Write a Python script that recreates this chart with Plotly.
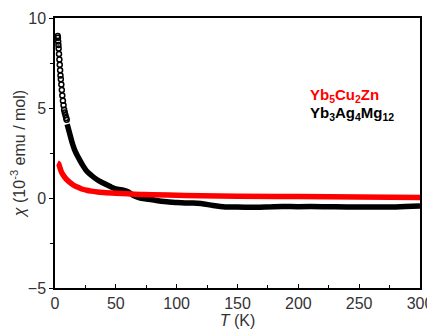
import plotly.graph_objects as go

# Yb3Ag4Mg12 sparse low-T points (open circles)
t_agmg_low = [2.2, 2.4, 2.6, 2.8, 3.0, 3.3, 3.6, 3.9, 4.2, 4.5, 4.8, 5.2, 5.6, 6.0, 6.5, 7.0, 7.5, 8.0, 8.6, 9.2, 9.6]
chi_agmg_low = [9.0, 8.9, 8.7, 8.5, 8.3, 8.0, 7.7, 7.4, 7.1, 6.8, 6.6, 6.3, 6.0, 5.7, 5.4, 5.15, 4.9, 4.75, 4.6, 4.45, 4.35]

# Yb3Ag4Mg12 dense data
t_agmg = [10, 12, 14, 16, 18, 20, 23, 26, 30, 35, 40, 45, 50, 55, 60, 65, 70, 80, 90, 100, 110, 120, 130, 140, 150, 165, 180, 200, 220, 240, 260, 280, 300]
chi_agmg = [4.1, 3.6, 3.1, 2.7, 2.4, 2.15, 1.8, 1.5, 1.25, 1.0, 0.82, 0.65, 0.5, 0.45, 0.35, 0.12, 0.0, -0.1, -0.2, -0.25, -0.28, -0.3, -0.42, -0.5, -0.5, -0.52, -0.48, -0.48, -0.48, -0.5, -0.5, -0.5, -0.45]

# Yb5Cu2Zn
t_cuzn = [2, 3, 4, 5, 6, 8, 10, 12, 15, 18, 22, 26, 30, 35, 40, 50, 60, 70, 80, 100, 120, 150, 200, 250, 300]
chi_cuzn = [1.95, 1.9, 1.7, 1.5, 1.35, 1.15, 1.0, 0.88, 0.72, 0.62, 0.5, 0.43, 0.38, 0.33, 0.3, 0.26, 0.23, 0.2, 0.18, 0.15, 0.12, 0.1, 0.08, 0.05, 0.03]

x_ticks = [0, 50, 100, 150, 200, 250, 300]
y_ticks = [-5, 0, 5, 10]

fig = go.Figure()
fig.add_trace(go.Scatter(x=t_agmg_low, y=chi_agmg_low, mode="markers",
                         marker=dict(symbol="circle-open", size=5, color="black", line=dict(width=1.5)),
                         showlegend=False))
fig.add_trace(go.Scatter(x=t_agmg, y=chi_agmg, mode="lines",
                         line=dict(color="black", width=5.5, shape="spline"), showlegend=False))
fig.add_trace(go.Scatter(x=t_cuzn, y=chi_cuzn, mode="lines",
                         line=dict(color="#ff0000", width=5.5, shape="spline"), showlegend=False))

fig.add_annotation(xref="x", yref="y", x=208, y=5.72, xanchor="left", yanchor="middle",
                   text="<b>Yb<sub>5</sub>Cu<sub>2</sub>Zn</b>", showarrow=False,
                   font=dict(family="Liberation Sans", size=15, color="#ff0000"))
fig.add_annotation(xref="x", yref="y", x=208, y=4.68, xanchor="left", yanchor="middle",
                   text="<b>Yb<sub>3</sub>Ag<sub>4</sub>Mg<sub>12</sub></b>", showarrow=False,
                   font=dict(family="Liberation Sans", size=15, color="black"))

axis_font = dict(family="Liberation Sans", size=16, color="#333333")
fig.update_layout(
    width=427, height=325,
    margin=dict(l=47, r=15, t=10, b=45),
    plot_bgcolor="white", paper_bgcolor="white",
    font=axis_font,
    xaxis=dict(range=[0, 300], tickvals=x_ticks, ticks="inside", ticklen=4, tickwidth=1.2,
               tickcolor="black", showline=True, linecolor="black", linewidth=1.5, mirror=True,
               showgrid=False, zeroline=False, automargin=False,
               minor=dict(dtick=25, ticks="inside", ticklen=3, tickcolor="black", showgrid=False),
               title=dict(text="<i>T</i> (K)", standoff=0, font=axis_font), tickfont=axis_font),
    yaxis=dict(range=[-5, 10], tickvals=y_ticks, ticks="outside", ticklen=4, tickwidth=1.2,
               tickcolor="black", showline=True, linecolor="black", linewidth=1.5, mirror=True,
               showgrid=False, zeroline=False, automargin=False,
               minor=dict(dtick=2.5, ticks="outside", ticklen=3, tickcolor="black", showgrid=False),
               title=dict(text="<i>χ</i> (10<sup>-3</sup> emu / mol)", standoff=4, font=axis_font),
               tickfont=axis_font),
)
fig.write_html("out.html")
